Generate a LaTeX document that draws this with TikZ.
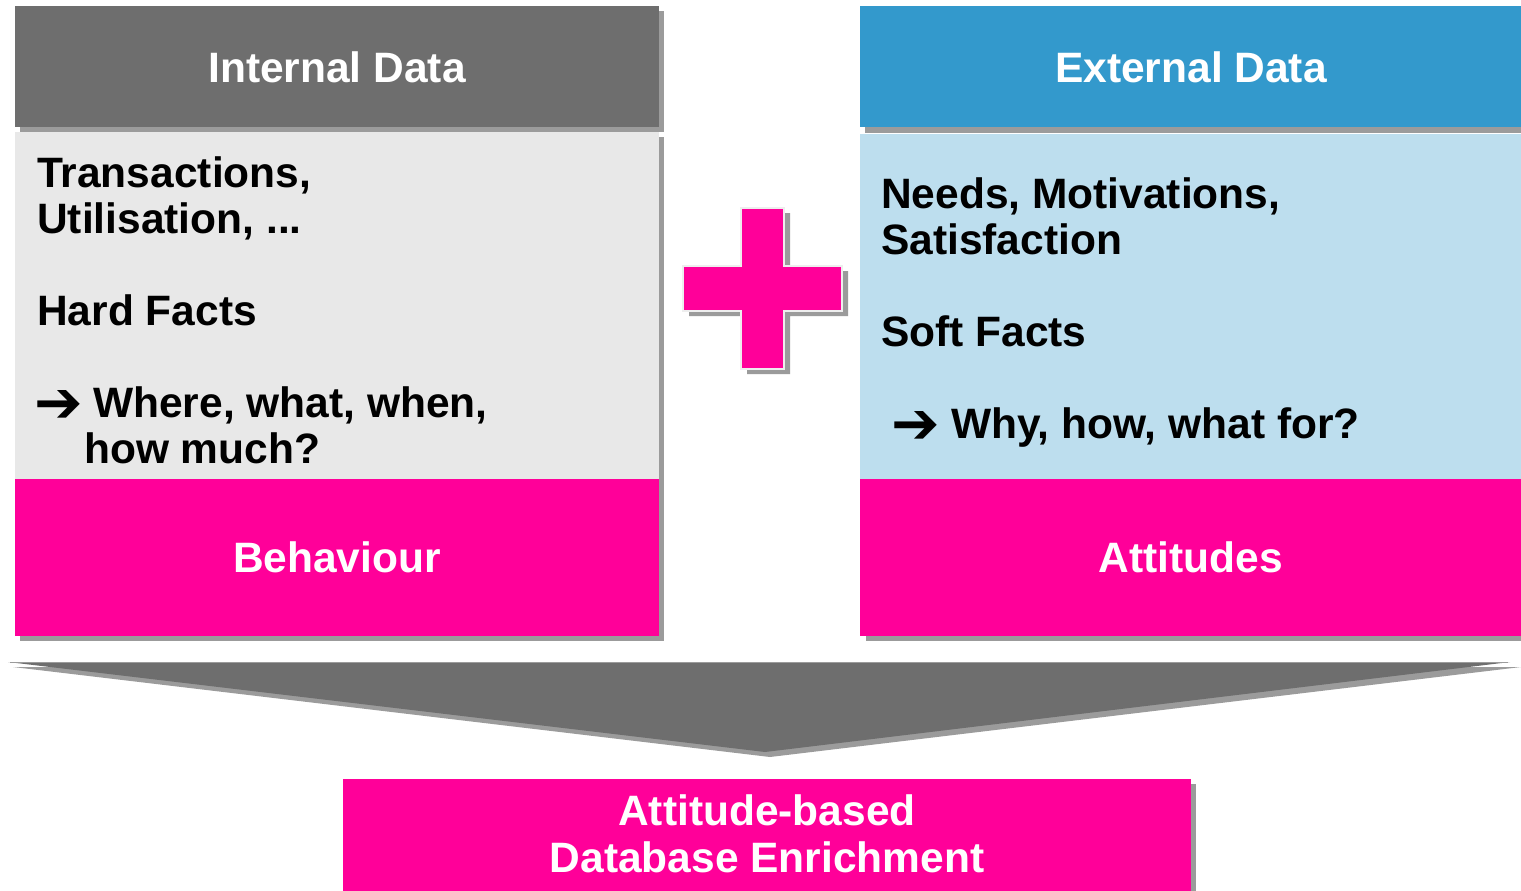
\documentclass[tikz,border=0pt]{standalone}
\usepackage{fontspec}
\setmainfont{Liberation Sans}
\newfontfamily\symfont{DejaVu Sans}
\definecolor{hdrgray}{HTML}{6E6E6E}
\definecolor{shadowgray}{HTML}{9B9B9B}
\definecolor{bodygray}{HTML}{E8E8E8}
\definecolor{hdrblue}{HTML}{3399CC}
\definecolor{bodyblue}{HTML}{BDDEEE}
\definecolor{hotpink}{HTML}{FF0099}
\definecolor{plusedge}{HTML}{EEEEEE}
\begin{document}
\begin{tikzpicture}[x=1pt,y=-1pt,
  txt/.style={inner sep=0pt, font=\fontsize{42.5}{46}\selectfont\bfseries},
  wtxt/.style={txt, text=white, anchor=base},
  btxt/.style={txt, text=black, anchor=base west},
  arr/.style={inner sep=0pt, anchor=base west, font=\symfont\bfseries\fontsize{58}{46}\selectfont},
  shade/.style={fill=shadowgray},
]
\useasboundingbox (0,0) rectangle (1521,891);
\fill[white] (0,0) rectangle (1521,891);

% ---------- left column ----------
\fill[shade] (20,11) rectangle (664,132);
\fill[hdrgray] (15,6) rectangle (659,127);
\fill[shade] (20,137) rectangle (664,496);
\fill[bodygray] (15,132) rectangle (659,491);
\fill[shade] (20,484) rectangle (664,641);
\fill[hotpink] (15,479) rectangle (659,636);

\node[wtxt] (inthdr) at (337,82) {Internal Data};
\node[btxt] (l1) at (37,187) {Transactions,};
\node[btxt] (l2) at (37,233) {Utilisation, ...};
\node[btxt] (l3) at (37,325) {Hard Facts};
\node[arr]  (la) at (34,422) {➔};
\node[btxt] (l4) at (93,417) {Where, what, when,};
\node[btxt] (l5) at (84,463) {how much?};
\node[wtxt] (beh) at (337,572) {Behaviour};

% ---------- right column ----------
\fill[shade] (865,11) rectangle (1526,133);
\fill[hdrblue] (860,6) rectangle (1526,127);
\fill[bodyblue] (860,134) rectangle (1526,491);
\fill[shade] (866,484) rectangle (1526,641);
\fill[hotpink] (860,479) rectangle (1526,636);

\node[wtxt] (exthdr) at (1191,82) {External Data};
\node[btxt] (r1) at (881,208) {Needs, Motivations,};
\node[btxt] (r2) at (881,254) {Satisfaction};
\node[btxt] (r3) at (881,346) {Soft Facts};
\node[arr]  (ra) at (891,443) {➔};
\node[btxt] (r4) at (951,438) {Why, how, what for?};
\node[wtxt] (att) at (1191,572) {Attitudes};

% ---------- plus sign ----------
\fill[shade, shift={(6,5)}] (741,208) -- (784,208) -- (784,266) -- (842,266) -- (842,311) -- (784,311) -- (784,369) -- (741,369) -- (741,311) -- (683,311) -- (683,266) -- (741,266) -- cycle;
\filldraw[fill=hotpink, draw=plusedge, line width=2.5pt, line join=miter] (741,208) -- (784,208) -- (784,266) -- (842,266) -- (842,311) -- (784,311) -- (784,369) -- (741,369) -- (741,311) -- (683,311) -- (683,266) -- (741,266) -- cycle;

% ---------- funnel arrow ----------
\fill[shade] (13,667) -- (1521,667) -- (770,757) -- cycle;
\fill[hdrgray] (8,662) -- (1510,662) -- (765,752) -- cycle;
\draw[shadowgray, line width=1pt] (10,662) -- (1508,662);

% ---------- result box ----------
\fill[shade] (348,784) rectangle (1196,896);
\fill[hotpink] (343,779) rectangle (1191,896);
\node[wtxt] (res1) at (767,825) {Attitude-based};
\node[wtxt] (res2) at (767,872) {Database Enrichment};
\end{tikzpicture}
\end{document}
